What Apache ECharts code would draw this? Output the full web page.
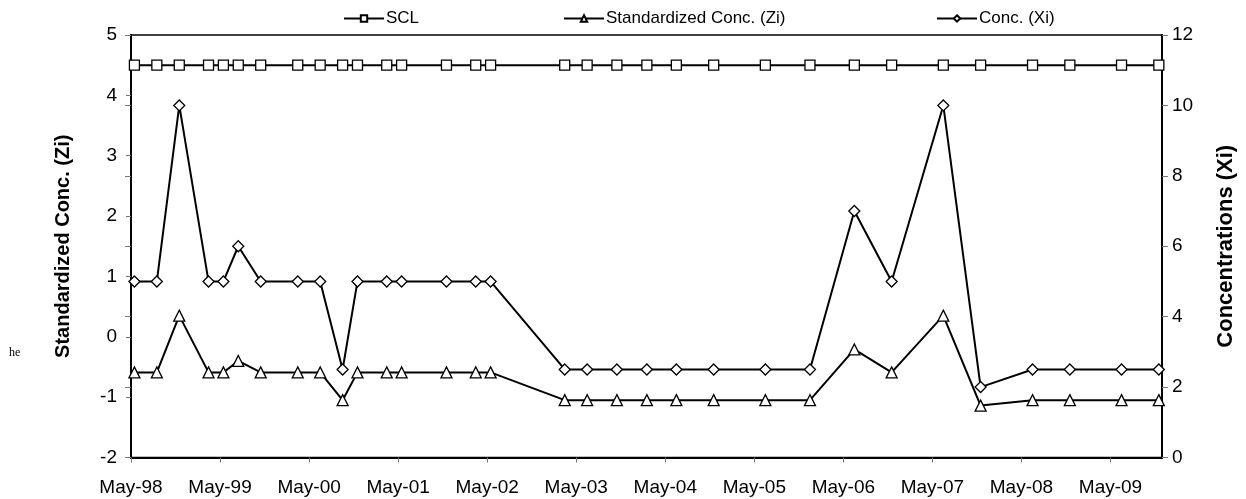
<!DOCTYPE html>
<html>
<head>
<meta charset="utf-8">
<script src="https://cdn.jsdelivr.net/npm/echarts@6/dist/echarts.min.js"></script>
<style>html,body{margin:0;padding:0;background:#fff;}#c{width:1246px;height:499px;}</style>
</head>
<body>
<div id="c"></div>
<script>
const AXIS_START = '1998-05-01';
const AXIS_END = '2009-11-28';
const tickLabels = ['May-98','May-99','May-00','May-01','May-02','May-03','May-04','May-05','May-06','May-07','May-08','May-09'];
const dates = ['1998-05-15','1998-08-15','1998-11-15','1999-03-15','1999-05-15','1999-07-15','1999-10-15','2000-03-15','2000-06-15','2000-09-15','2000-11-15','2001-03-15','2001-05-15','2001-11-15','2002-03-15','2002-05-15','2003-03-15','2003-06-15','2003-10-15','2004-02-15','2004-06-15','2004-11-15','2005-06-15','2005-12-15','2006-06-15','2006-11-15','2007-06-15','2007-11-15','2008-06-15','2008-11-15','2009-06-15','2009-11-15'];
const scl = [4.5,4.5,4.5,4.5,4.5,4.5,4.5,4.5,4.5,4.5,4.5,4.5,4.5,4.5,4.5,4.5,4.5,4.5,4.5,4.5,4.5,4.5,4.5,4.5,4.5,4.5,4.5,4.5,4.5,4.5,4.5,4.5];
const zi = [-0.59,-0.59,0.35,-0.59,-0.59,-0.4,-0.59,-0.59,-0.59,-1.05,-0.59,-0.59,-0.59,-0.59,-0.59,-0.59,-1.05,-1.05,-1.05,-1.05,-1.05,-1.05,-1.05,-1.05,-0.21,-0.59,0.35,-1.14,-1.05,-1.05,-1.05,-1.05];
const xi = [5,5,10,5,5,6,5,5,5,2.5,5,5,5,5,5,5,2.5,2.5,2.5,2.5,2.5,2.5,2.5,2.5,7,5,10,2,2.5,2.5,2.5,2.5];

const DAY = 86400000;
const YEAR = 365.25;
const t0 = Date.parse(AXIS_START);
const dayOf = d => (Date.parse(d) - t0) / DAY;
const xs = dates.map(dayOf);
const pair = arr => arr.map((v, i) => [xs[i], v]);

const FONT = '"Liberation Sans", Arial, sans-serif';
const chart = echarts.init(document.getElementById('c'), null, {renderer: 'canvas'});

const lineStyle = {color: '#000', width: 2};
const itemStyle = {color: '#fff', borderColor: '#000', borderWidth: 1.3};

function legendAt(name, left) {
  return {
    data: [name], left: left, top: 5, itemWidth: 40, itemHeight: 8, itemGap: 3,
    textStyle: {fontFamily: FONT, fontSize: 17, color: '#000', padding: [0, 0, 0, -3]},
    selectedMode: false
  };
}

chart.setOption({
  animation: false,
  backgroundColor: '#fff',
  textStyle: {fontFamily: FONT},
  legend: [legendAt('SCL', 338), legendAt('Standardized Conc. (Zi)', 558), legendAt('Conc. (Xi)', 931)],
  grid: {left: 131, right: 84, top: 35, bottom: 41.5, show: true, borderColor: '#000', borderWidth: 1.5, backgroundColor: 'transparent'},
  xAxis: {
    type: 'value', min: 0, max: dayOf(AXIS_END), interval: YEAR,
    splitLine: {show: false},
    axisLine: {onZero: false, lineStyle: {color: '#000', width: 2}},
    axisTick: {length: 5, lineStyle: {color: '#777', width: 1}},
    axisLabel: {
      fontFamily: FONT, fontSize: 19, color: '#000', margin: 21, showMaxLabel: false,
      formatter: v => tickLabels[Math.round(v / YEAR)] || ''
    }
  },
  yAxis: [
    {
      type: 'value', min: -2, max: 5, interval: 1, position: 'left',
      name: 'Standardized Conc. (Zi)', nameLocation: 'middle', nameRotate: 90, nameGap: 58,
      nameTextStyle: {fontFamily: FONT, fontSize: 20, fontWeight: 'bold', color: '#000'},
      splitLine: {show: false},
      axisLine: {show: true, onZero: false, lineStyle: {color: '#000', width: 2}},
      axisTick: {show: true, length: 5, lineStyle: {color: '#777', width: 1}},
      axisLabel: {fontFamily: FONT, fontSize: 19, color: '#000', margin: 14}
    },
    {
      type: 'value', min: 0, max: 12, interval: 2, position: 'right',
      name: 'Concentrations (Xi)', nameLocation: 'middle', nameRotate: 90, nameGap: 53,
      nameTextStyle: {fontFamily: FONT, fontSize: 22, fontWeight: 'bold', color: '#000'},
      splitLine: {show: false},
      axisLine: {show: true, onZero: false, lineStyle: {color: '#000', width: 2}},
      axisTick: {show: true, length: 6, lineStyle: {color: '#777', width: 1}},
      axisLabel: {fontFamily: FONT, fontSize: 19, color: '#000', margin: 10}
    },
    {
      type: 'value', min: 0, max: 12, interval: 2, position: 'right',
      splitLine: {show: false},
      axisLine: {show: false},
      axisTick: {show: true, inside: true, length: 6, lineStyle: {color: '#777', width: 1}},
      axisLabel: {show: false}
    }
  ],
  series: [
    {name: 'SCL', type: 'line', yAxisIndex: 0, data: pair(scl), symbol: 'rect', symbolSize: 10,
     lineStyle: lineStyle, itemStyle: itemStyle, z: 3},
    {name: 'Standardized Conc. (Zi)', type: 'line', yAxisIndex: 0, data: pair(zi), symbol: 'triangle', symbolSize: 11,
     lineStyle: lineStyle, itemStyle: itemStyle, z: 4},
    {name: 'Conc. (Xi)', type: 'line', yAxisIndex: 1, data: pair(xi), symbol: 'diamond', symbolSize: 11,
     lineStyle: lineStyle, itemStyle: itemStyle, z: 5}
  ],
  graphic: [
    {type: 'text', left: 9, top: 347, style: {text: 'he', font: '12px "Liberation Serif", serif', fill: '#000'}}
  ]
});
</script>
</body>
</html>
